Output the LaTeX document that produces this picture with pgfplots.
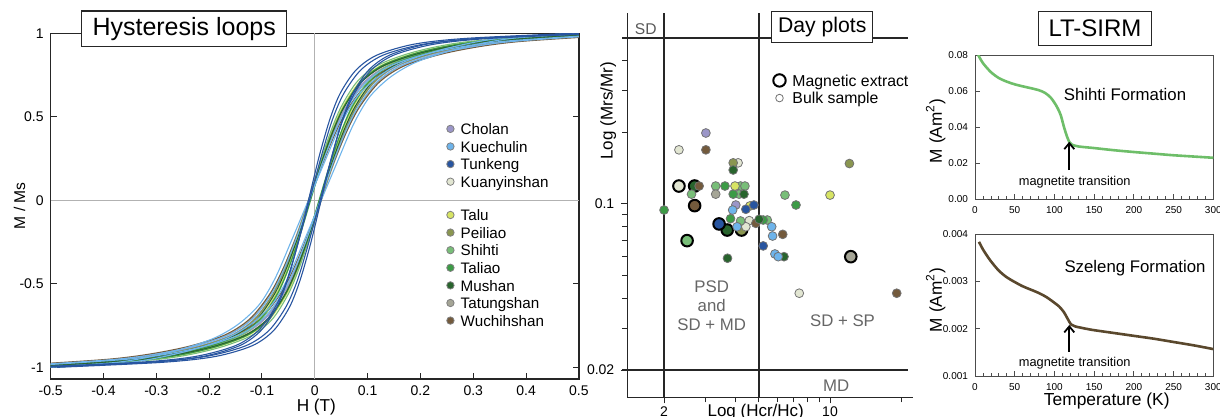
\documentclass[border=0pt]{standalone}
\usepackage{fontspec}
\setmainfont{Liberation Sans}
\usepackage{pgfplots}
\pgfplotsset{compat=1.18}
\usetikzlibrary{arrows.meta}
\definecolor{cholan}{HTML}{9B96C8}
\definecolor{kuechulin}{HTML}{6EB4EB}
\definecolor{tunkeng}{HTML}{2855A0}
\definecolor{kuanyinshan}{HTML}{E2E6D2}
\definecolor{talu}{HTML}{D7E464}
\definecolor{peiliao}{HTML}{8A9650}
\definecolor{shihti}{HTML}{78BE78}
\definecolor{taliao}{HTML}{3C9B46}
\definecolor{mushan}{HTML}{28642D}
\definecolor{tatungshan}{HTML}{A5A596}
\definecolor{wuchihshan}{HTML}{735A3C}
\definecolor{sirmgreen}{HTML}{6EBE69}
\definecolor{sirmbrown}{HTML}{5A482D}
\pgfplotsset{/pgf/number format/assume math mode=true}
\newcommand{\fz}[1]{\fontsize{#1}{#1}\selectfont}
\newcommand{\st}{\rule[-1.85pt]{0pt}{9.15pt}}
\begin{document}
\begin{tikzpicture}
\path[use as bounding box] (0pt,0pt) rectangle (610pt,-208.5pt);

% ---------------- Hysteresis loops ----------------
\begin{axis}[
 at={(25.35pt,-189.5pt)}, anchor=south west, scale only axis,
 width=264.1pt, height=172.85pt,
 xmin=-0.5, xmax=0.5, ymin=-1.07, ymax=1,
 xtick={-0.5,-0.4,-0.3,-0.2,-0.1,0,0.1,0.2,0.3,0.4,0.5},
 ytick={-1,-0.5,0,0.5,1},
 xtick pos=lower, tick align=inside, major tick length=3pt,
 axis line style={black!85, line width=0.6pt}, tick style={black!85, line width=0.5pt},
 tick label style={font=\fz{7}},
 xlabel={H (T)}, xlabel style={at={(axis description cs:0.503,-0.08)}, anchor=center, font=\fz{8.6}},
 ylabel={M / Ms}, ylabel style={at={(axis description cs:-0.059,0.501)}, anchor=center, font=\fz{7.8}},
 legend style={at={(axis description cs:0.749,0.749)}, anchor=north west, draw=none, fill=none,
   inner sep=0pt, outer sep=0pt, row sep=0pt, font=\fz{7.6},
   nodes={inner sep=0pt, outer sep=0pt},
   /tikz/every odd column/.append style={column sep=3.1pt}},
 legend cell align=left,
 hl/.style={smooth, line width=0.55pt, forget plot, draw=#1},
]
\addplot[gray!60, line width=0.5pt, forget plot] coordinates {(0,-1.07)(0,1)};
\addplot[gray!60, line width=0.5pt, forget plot] coordinates {(-0.5,0)(0.5,0)};
% Kuanyinshan
\addplot[hl=kuanyinshan!80!black] coordinates {(0.538,1)(0.318,0.95)(0.208,0.89)(0.131,0.81)(0.087,0.71)(0.054,0.56)(0.032,0.41)(0.01,0.22)(-0.012,0)(-0.034,-0.22)(-0.056,-0.41)(-0.078,-0.56)(-0.111,-0.71)(-0.155,-0.81)(-0.232,-0.89)(-0.342,-0.95)(-0.562,-1)};
\addplot[hl=kuanyinshan!80!black] coordinates {(-0.538,-1)(-0.318,-0.95)(-0.208,-0.89)(-0.131,-0.81)(-0.087,-0.71)(-0.054,-0.56)(-0.032,-0.41)(-0.01,-0.22)(0.012,0)(0.034,0.22)(0.056,0.41)(0.078,0.56)(0.111,0.71)(0.155,0.81)(0.232,0.89)(0.342,0.95)(0.562,1)};
% Talu
\addplot[hl=talu] coordinates {(0.515,1)(0.305,0.95)(0.2,0.89)(0.127,0.81)(0.085,0.71)(0.053,0.56)(0.032,0.41)(0.011,0.22)(-0.01,0)(-0.031,-0.22)(-0.052,-0.41)(-0.073,-0.56)(-0.105,-0.71)(-0.147,-0.81)(-0.22,-0.89)(-0.325,-0.95)(-0.535,-1)};
\addplot[hl=talu] coordinates {(-0.515,-1)(-0.305,-0.95)(-0.2,-0.89)(-0.127,-0.81)(-0.085,-0.71)(-0.053,-0.56)(-0.032,-0.41)(-0.011,-0.22)(0.01,0)(0.031,0.22)(0.052,0.41)(0.073,0.56)(0.105,0.71)(0.147,0.81)(0.22,0.89)(0.325,0.95)(0.535,1)};
% Tatungshan
\addplot[hl=tatungshan] coordinates {(0.588,1)(0.348,0.95)(0.228,0.89)(0.144,0.81)(0.096,0.71)(0.06,0.56)(0.036,0.41)(0.012,0.22)(-0.012,0)(-0.036,-0.22)(-0.06,-0.41)(-0.084,-0.56)(-0.12,-0.71)(-0.168,-0.81)(-0.252,-0.89)(-0.372,-0.95)(-0.612,-1)};
\addplot[hl=tatungshan] coordinates {(-0.588,-1)(-0.348,-0.95)(-0.228,-0.89)(-0.144,-0.81)(-0.096,-0.71)(-0.06,-0.56)(-0.036,-0.41)(-0.012,-0.22)(0.012,0)(0.036,0.22)(0.06,0.41)(0.084,0.56)(0.12,0.71)(0.168,0.81)(0.252,0.89)(0.372,0.95)(0.612,1)};
% Wuchihshan
\addplot[hl=wuchihshan] coordinates {(0.615,1)(0.365,0.95)(0.24,0.89)(0.153,0.81)(0.103,0.71)(0.065,0.56)(0.04,0.41)(0.015,0.22)(-0.01,0)(-0.035,-0.22)(-0.06,-0.41)(-0.085,-0.56)(-0.123,-0.71)(-0.173,-0.81)(-0.26,-0.89)(-0.385,-0.95)(-0.635,-1)};
\addplot[hl=wuchihshan] coordinates {(-0.615,-1)(-0.365,-0.95)(-0.24,-0.89)(-0.153,-0.81)(-0.103,-0.71)(-0.065,-0.56)(-0.04,-0.41)(-0.015,-0.22)(0.01,0)(0.035,0.22)(0.06,0.41)(0.085,0.56)(0.123,0.71)(0.173,0.81)(0.26,0.89)(0.385,0.95)(0.635,1)};
% Cholan
\addplot[hl=cholan] coordinates {(0.565,1)(0.335,0.95)(0.22,0.89)(0.14,0.81)(0.094,0.71)(0.059,0.56)(0.036,0.41)(0.013,0.22)(-0.01,0)(-0.033,-0.22)(-0.056,-0.41)(-0.079,-0.56)(-0.114,-0.71)(-0.16,-0.81)(-0.24,-0.89)(-0.355,-0.95)(-0.585,-1)};
\addplot[hl=cholan] coordinates {(-0.565,-1)(-0.335,-0.95)(-0.22,-0.89)(-0.14,-0.81)(-0.094,-0.71)(-0.059,-0.56)(-0.036,-0.41)(-0.013,-0.22)(0.01,0)(0.033,0.22)(0.056,0.41)(0.079,0.56)(0.114,0.71)(0.16,0.81)(0.24,0.89)(0.355,0.95)(0.585,1)};
% Peiliao
\addplot[hl=peiliao] coordinates {(0.548,1)(0.324,0.95)(0.212,0.89)(0.134,0.81)(0.089,0.71)(0.055,0.56)(0.033,0.41)(0.01,0.22)(-0.012,0)(-0.034,-0.22)(-0.057,-0.41)(-0.079,-0.56)(-0.113,-0.71)(-0.158,-0.81)(-0.236,-0.89)(-0.348,-0.95)(-0.572,-1)};
\addplot[hl=peiliao] coordinates {(-0.548,-1)(-0.324,-0.95)(-0.212,-0.89)(-0.134,-0.81)(-0.089,-0.71)(-0.055,-0.56)(-0.033,-0.41)(-0.01,-0.22)(0.012,0)(0.034,0.22)(0.057,0.41)(0.079,0.56)(0.113,0.71)(0.158,0.81)(0.236,0.89)(0.348,0.95)(0.572,1)};
% Shihti
\addplot[hl=shihti] coordinates {(0.49,1)(0.29,0.95)(0.19,0.89)(0.12,0.81)(0.08,0.71)(0.05,0.56)(0.03,0.41)(0.01,0.22)(-0.01,0)(-0.03,-0.22)(-0.05,-0.41)(-0.07,-0.56)(-0.1,-0.71)(-0.14,-0.81)(-0.21,-0.89)(-0.31,-0.95)(-0.51,-1)};
\addplot[hl=shihti] coordinates {(-0.49,-1)(-0.29,-0.95)(-0.19,-0.89)(-0.12,-0.81)(-0.08,-0.71)(-0.05,-0.56)(-0.03,-0.41)(-0.01,-0.22)(0.01,0)(0.03,0.22)(0.05,0.41)(0.07,0.56)(0.1,0.71)(0.14,0.81)(0.21,0.89)(0.31,0.95)(0.51,1)};
% Taliao
\addplot[hl=taliao] coordinates {(0.517,1)(0.307,0.95)(0.202,0.89)(0.129,0.81)(0.087,0.71)(0.055,0.56)(0.034,0.41)(0.013,0.22)(-0.008,0)(-0.029,-0.22)(-0.05,-0.41)(-0.071,-0.56)(-0.103,-0.71)(-0.145,-0.81)(-0.218,-0.89)(-0.323,-0.95)(-0.533,-1)};
\addplot[hl=taliao] coordinates {(-0.517,-1)(-0.307,-0.95)(-0.202,-0.89)(-0.129,-0.81)(-0.087,-0.71)(-0.055,-0.56)(-0.034,-0.41)(-0.013,-0.22)(0.008,0)(0.029,0.22)(0.05,0.41)(0.071,0.56)(0.103,0.71)(0.145,0.81)(0.218,0.89)(0.323,0.95)(0.533,1)};
% Mushan
\addplot[hl=mushan] coordinates {(0.54,1)(0.32,0.95)(0.21,0.89)(0.133,0.81)(0.089,0.71)(0.056,0.56)(0.034,0.41)(0.012,0.22)(-0.01,0)(-0.032,-0.22)(-0.054,-0.41)(-0.076,-0.56)(-0.109,-0.71)(-0.153,-0.81)(-0.23,-0.89)(-0.34,-0.95)(-0.56,-1)};
\addplot[hl=mushan] coordinates {(-0.54,-1)(-0.32,-0.95)(-0.21,-0.89)(-0.133,-0.81)(-0.089,-0.71)(-0.056,-0.56)(-0.034,-0.41)(-0.012,-0.22)(0.01,0)(0.032,0.22)(0.054,0.41)(0.076,0.56)(0.109,0.71)(0.153,0.81)(0.23,0.89)(0.34,0.95)(0.56,1)};
% Kuechulin
\addplot[hl=kuechulin] coordinates {(0.5,1)(0.35,0.97)(0.25,0.91)(0.17,0.83)(0.12,0.74)(0.08,0.62)(0.05,0.46)(0.02,0.24)(-0.012,0)(-0.044,-0.24)(-0.074,-0.46)(-0.104,-0.62)(-0.144,-0.74)(-0.194,-0.83)(-0.274,-0.91)(-0.374,-0.97)(-0.524,-1)};
\addplot[hl=kuechulin] coordinates {(-0.5,-1)(-0.35,-0.97)(-0.25,-0.91)(-0.17,-0.83)(-0.12,-0.74)(-0.08,-0.62)(-0.05,-0.46)(-0.02,-0.24)(0.012,0)(0.044,0.24)(0.074,0.46)(0.104,0.62)(0.144,0.74)(0.194,0.83)(0.274,0.91)(0.374,0.97)(0.524,1)};
\addplot[hl=kuechulin] coordinates {(0.59,1)(0.35,0.95)(0.23,0.89)(0.146,0.81)(0.098,0.71)(0.062,0.56)(0.038,0.41)(0.014,0.22)(-0.01,0)(-0.034,-0.22)(-0.058,-0.41)(-0.082,-0.56)(-0.118,-0.71)(-0.166,-0.81)(-0.25,-0.89)(-0.37,-0.95)(-0.61,-1)};
\addplot[hl=kuechulin] coordinates {(-0.59,-1)(-0.35,-0.95)(-0.23,-0.89)(-0.146,-0.81)(-0.098,-0.71)(-0.062,-0.56)(-0.038,-0.41)(-0.014,-0.22)(0.01,0)(0.034,0.22)(0.058,0.41)(0.082,0.56)(0.118,0.71)(0.166,0.81)(0.25,0.89)(0.37,0.95)(0.61,1)};
% Tunkeng
\addplot[hl=tunkeng] coordinates {(0.488,1)(0.288,0.97)(0.188,0.935)(0.118,0.87)(0.078,0.78)(0.048,0.64)(0.028,0.48)(0.008,0.26)(-0.012,0)(-0.032,-0.26)(-0.052,-0.48)(-0.072,-0.64)(-0.102,-0.78)(-0.142,-0.87)(-0.212,-0.935)(-0.312,-0.97)(-0.512,-1)};
\addplot[hl=tunkeng] coordinates {(-0.488,-1)(-0.288,-0.97)(-0.188,-0.935)(-0.118,-0.87)(-0.078,-0.78)(-0.048,-0.64)(-0.028,-0.48)(-0.008,-0.26)(0.012,0)(0.032,0.26)(0.052,0.48)(0.072,0.64)(0.102,0.78)(0.142,0.87)(0.212,0.935)(0.312,0.97)(0.512,1)};
\addplot[hl=tunkeng] coordinates {(0.53,1)(0.314,0.97)(0.206,0.935)(0.13,0.87)(0.087,0.78)(0.055,0.64)(0.033,0.48)(0.012,0.26)(-0.01,0)(-0.032,-0.26)(-0.053,-0.48)(-0.075,-0.64)(-0.107,-0.78)(-0.15,-0.87)(-0.226,-0.935)(-0.334,-0.97)(-0.55,-1)};
\addplot[hl=tunkeng] coordinates {(-0.53,-1)(-0.314,-0.97)(-0.206,-0.935)(-0.13,-0.87)(-0.087,-0.78)(-0.055,-0.64)(-0.033,-0.48)(-0.012,-0.26)(0.01,0)(0.032,0.26)(0.053,0.48)(0.075,0.64)(0.107,0.78)(0.15,0.87)(0.226,0.935)(0.334,0.97)(0.55,1)};
% legend
\addlegendimage{legend image code/.code={\draw[black!50, line width=0.4pt, fill=cholan] (0pt,0pt) circle (1.85pt);}}
\addlegendentry{\st Cholan}
\addlegendimage{legend image code/.code={\draw[black!50, line width=0.4pt, fill=kuechulin] (0pt,0pt) circle (1.85pt);}}
\addlegendentry{\st Kuechulin}
\addlegendimage{legend image code/.code={\draw[black!50, line width=0.4pt, fill=tunkeng] (0pt,0pt) circle (1.85pt);}}
\addlegendentry{\st Tunkeng}
\addlegendimage{legend image code/.code={\draw[black!50, line width=0.4pt, fill=kuanyinshan] (0pt,0pt) circle (1.85pt);}}
\addlegendentry{\st Kuanyinshan}
\addlegendimage{empty legend}
\addlegendentry{\rule{0pt}{6.35pt}}
\addlegendimage{legend image code/.code={\draw[black!50, line width=0.4pt, fill=talu] (0pt,0pt) circle (1.85pt);}}
\addlegendentry{\st Talu}
\addlegendimage{legend image code/.code={\draw[black!50, line width=0.4pt, fill=peiliao] (0pt,0pt) circle (1.85pt);}}
\addlegendentry{\st Peiliao}
\addlegendimage{legend image code/.code={\draw[black!50, line width=0.4pt, fill=shihti] (0pt,0pt) circle (1.85pt);}}
\addlegendentry{\st Shihti}
\addlegendimage{legend image code/.code={\draw[black!50, line width=0.4pt, fill=taliao] (0pt,0pt) circle (1.85pt);}}
\addlegendentry{\st Taliao}
\addlegendimage{legend image code/.code={\draw[black!50, line width=0.4pt, fill=mushan] (0pt,0pt) circle (1.85pt);}}
\addlegendentry{\st Mushan}
\addlegendimage{legend image code/.code={\draw[black!50, line width=0.4pt, fill=tatungshan] (0pt,0pt) circle (1.85pt);}}
\addlegendentry{\st Tatungshan}
\addlegendimage{legend image code/.code={\draw[black!50, line width=0.4pt, fill=wuchihshan] (0pt,0pt) circle (1.85pt);}}
\addlegendentry{\st Wuchihshan}
\end{axis}

% ---------------- Day plot ----------------
\begin{axis}[
 at={(313.65pt,-198.65pt)}, anchor=south west, scale only axis,
 width=142.7pt, height=192pt,
 xmode=log, ymode=log,
 xmin=1.4, xmax=22.3, ymin=0.01535, ymax=0.635,
 axis x line=bottom, axis y line=left,
 axis line style={-, black!85, line width=0.6pt},
 xtick={2,10}, xticklabels={2,10}, minor xtick={3,4,5,6,7,8,9,20},
 ytick={0.02,0.1}, yticklabels={0.02,0.1},
 minor ytick={0.03,0.04,0.05,0.06,0.07,0.08,0.09,0.2,0.3,0.4},
 tick align=outside, major tick length=3pt, minor tick length=2.5pt,
 tick style={black!85, line width=0.5pt},
 tick label style={font=\fz{7}},
 xticklabel style={yshift=2pt},
 xlabel={Log (Hcr/Hc)}, xlabel style={at={(axis description cs:0.45,-0.049)}, anchor=base, font=\fz{8.5}},
 ylabel={Log (Mrs/Mr)}, ylabel style={at={(axis description cs:-0.0666,0.746)}, anchor=center, font=\fz{8.5}},
 clip=false,
 legend style={at={(axis description cs:0.508,0.848)}, anchor=north west, draw=none, fill=none,
   inner sep=0pt, outer sep=0pt, row sep=0pt, font=\fz{7.9},
   nodes={inner sep=0pt, outer sep=0pt},
   /tikz/every odd column/.append style={column sep=2.9pt}},
 legend cell align=left,
 bulk/.style={only marks, mark=*, mark size=2.2pt, forget plot, mark options={draw=black!55, line width=0.4pt, fill=#1}},
 ext/.style={only marks, mark=*, mark size=2.9pt, forget plot, mark options={draw=black, line width=1pt, fill=#1}},
]
\addplot[black!85, line width=1pt, forget plot] coordinates {(2,0.01535)(2,0.635)};
\addplot[black!85, line width=1pt, forget plot] coordinates {(5,0.01535)(5,0.635)};
\addplot[black!85, line width=1pt, forget plot] coordinates {(1.33,0.5)(21.3,0.5)};
\addplot[black!85, line width=1pt, forget plot] coordinates {(1.33,0.02)(21.3,0.02)};
% magnetic extracts
\addplot[ext=kuanyinshan] coordinates {(2.31,0.119)};
\addplot[ext=mushan] coordinates {(2.69,0.119)(3.69,0.0777)};
\addplot[ext=wuchihshan] coordinates {(2.69,0.0984)};
\addplot[ext=shihti] coordinates {(2.50,0.0701)};
\addplot[ext=tunkeng] coordinates {(3.41,0.0824)};
\addplot[ext=peiliao] coordinates {(4.24,0.0777)};
\addplot[ext=tatungshan] coordinates {(12.23,0.0600)};
% bulk samples
\addplot[bulk=cholan] coordinates {(3.0,0.199)(4.01,0.099)};
\addplot[bulk=kuanyinshan] coordinates {(2.31,0.169)(4.10,0.149)(4.57,0.0851)(4.42,0.0802)(7.42,0.0421)};
\addplot[bulk=wuchihshan] coordinates {(3.0,0.169)(2.81,0.119)(4.87,0.0829)(6.32,0.0745)(19.1,0.0421)};
\addplot[bulk=peiliao] coordinates {(3.91,0.149)(12.07,0.148)};
\addplot[bulk=shihti] coordinates {(3.30,0.119)(4.20,0.119)(4.38,0.119)(2.61,0.110)(4.14,0.110)(4.20,0.0848)(5.44,0.0856)(6.46,0.109)};
\addplot[bulk=taliao] coordinates {(3.61,0.119)(3.91,0.110)(2.0,0.0943)(3.81,0.0867)(5.23,0.0856)(7.19,0.099)};
\addplot[bulk=mushan] coordinates {(3.91,0.139)(4.34,0.110)(5.03,0.0862)(6.40,0.0600)(3.70,0.0591)};
\addplot[bulk=tatungshan] coordinates {(3.30,0.110)};
\addplot[bulk=talu] coordinates {(3.98,0.119)(4.60,0.0981)(10.0,0.109)};
\addplot[bulk=kuechulin] coordinates {(3.89,0.0943)(4.06,0.0802)(5.68,0.0802)(5.73,0.0733)(5.86,0.0616)(6.05,0.0600)};
\addplot[bulk=tunkeng] coordinates {(4.42,0.095)(4.78,0.099)(5.23,0.0666)};
\addlegendimage{legend image code/.code={\draw[black, line width=1pt, fill=white] (0pt,0pt) circle (3.1pt);}}
\addlegendentry{\st Magnetic extract}
\addlegendimage{legend image code/.code={\draw[black!55, line width=0.4pt, fill=white] (0pt,0pt) circle (1.9pt);}}
\addlegendentry{\st Bulk sample}
\end{axis}

% ---------------- LT-SIRM top ----------------
\begin{axis}[
 at={(487.5pt,-99.5pt)}, anchor=south west, scale only axis,
 width=119.15pt, height=72pt,
 xmin=0, xmax=300, ymin=0, ymax=0.08,
 xtick={0,50,100,150,200,250,300}, minor x tick num=4,
 ytick={0,0.02,0.04,0.06,0.08}, scaled y ticks=false,
 yticklabel style={/pgf/number format/.cd, fixed, fixed zerofill, precision=2},
 xtick pos=lower, ytick pos=left, tick align=inside,
 major tick length=2.5pt, minor tick length=1.6pt,
 axis line style={black!70, line width=0.5pt}, tick style={black!70, line width=0.4pt},
 tick label style={font=\fz{5}},
 ylabel={M (Am\textsuperscript{2})}, ylabel style={at={(axis description cs:-0.165,0.472)}, anchor=center, font=\fz{8.6}},
]
\addplot[sirmgreen, line width=1.3pt, smooth] coordinates {(4,0.080)(10,0.0755)(20,0.0705)(30,0.0672)(40,0.0652)(50,0.0637)(60,0.0626)(70,0.0616)(80,0.0605)(88,0.0590)(95,0.0565)(100,0.0535)(104,0.0505)(108,0.0465)(112,0.040)(116,0.0345)(119,0.0315)(122,0.0302)(130,0.0292)(150,0.0283)(175,0.0271)(200,0.0261)(225,0.0252)(250,0.0243)(275,0.0236)(300,0.0229)};
\draw[black, line width=0.9pt, -{Straight Barb[length=3pt,width=5pt]}] (axis cs:118.7,0.0161) -- (axis cs:118.7,0.0318);
\end{axis}

% ---------------- LT-SIRM bottom ----------------
\begin{axis}[
 at={(487.5pt,-188pt)}, anchor=south west, scale only axis,
 width=119.15pt, height=70.85pt,
 xmin=0, xmax=300, ymin=0.001, ymax=0.004,
 xtick={0,50,100,150,200,250,300}, minor x tick num=4,
 ytick={0.001,0.002,0.003,0.004}, scaled y ticks=false,
 yticklabel style={/pgf/number format/.cd, fixed, fixed zerofill, precision=3},
 xtick pos=lower, ytick pos=left, tick align=inside,
 major tick length=2.5pt, minor tick length=1.6pt,
 axis line style={black!70, line width=0.5pt}, tick style={black!70, line width=0.4pt},
 tick label style={font=\fz{5}},
 ylabel={M (Am\textsuperscript{2})}, ylabel style={at={(axis description cs:-0.165,0.536)}, anchor=center, font=\fz{8.6}},
 xlabel={Temperature (K)}, xlabel style={at={(axis description cs:0.553,-0.178)}, anchor=center, font=\fz{8.7}},
]
\addplot[sirmbrown, line width=1.3pt, smooth] coordinates {(5,0.00384)(10,0.00368)(15,0.00355)(20,0.00343)(30,0.00323)(40,0.00309)(50,0.00299)(60,0.0029)(70,0.00283)(80,0.00276)(90,0.00267)(100,0.00255)(106,0.00247)(112,0.00235)(117,0.0022)(121,0.00209)(126,0.00205)(140,0.002)(150,0.00197)(175,0.00191)(200,0.00185)(225,0.00179)(250,0.00172)(275,0.00165)(300,0.00157)};
\draw[black, line width=0.9pt, -{Straight Barb[length=3pt,width=5pt]}] (axis cs:118.7,0.001514) -- (axis cs:118.7,0.00208);
\end{axis}

% ---------------- titles and annotations ----------------
\node[draw=black!85, line width=0.7pt, fill=white, minimum width=102.5pt, minimum height=17.85pt, inner sep=0pt, font=\fz{12.5}] at (92.1pt,-14.4pt) {Hysteresis loops};
\node[draw=black!85, line width=0.7pt, fill=white, minimum width=50.5pt, minimum height=15.3pt, inner sep=0pt, font=\fz{10.6}] at (411.1pt,-13.5pt) {Day plots};
\node[draw=black!85, line width=0.7pt, fill=white, minimum width=56.7pt, minimum height=17pt, inner sep=0pt, font=\fz{12}] at (547.5pt,-14.35pt) {LT-SIRM};

\node[anchor=base, font=\fz{7.8}, text=black!65] at (322.9pt,-17.5pt) {SD};
\node[anchor=base, font=\fz{8.4}, text=black!60] at (418.15pt,-195.85pt) {MD};
\node[anchor=base, font=\fz{8.4}, text=black!60] at (355.85pt,-146.35pt) {PSD};
\node[anchor=base, font=\fz{8.4}, text=black!60] at (355.85pt,-155.85pt) {and};
\node[anchor=base, font=\fz{8.4}, text=black!60] at (355.85pt,-165pt) {SD + MD};
\node[anchor=base, font=\fz{8.4}, text=black!60] at (421.25pt,-163pt) {SD + SP};

\node[font=\fz{8.4}] at (562.5pt,-47.15pt) {Shihti Formation};
\node[font=\fz{8.4}] at (567.5pt,-134.15pt) {Szeleng Formation};
\node[anchor=base, font=\fz{6.4}] at (537.35pt,-92.8pt) {magnetite transition};
\node[anchor=base, font=\fz{6.4}] at (537.35pt,-183.3pt) {magnetite transition};
\end{tikzpicture}
\end{document}
